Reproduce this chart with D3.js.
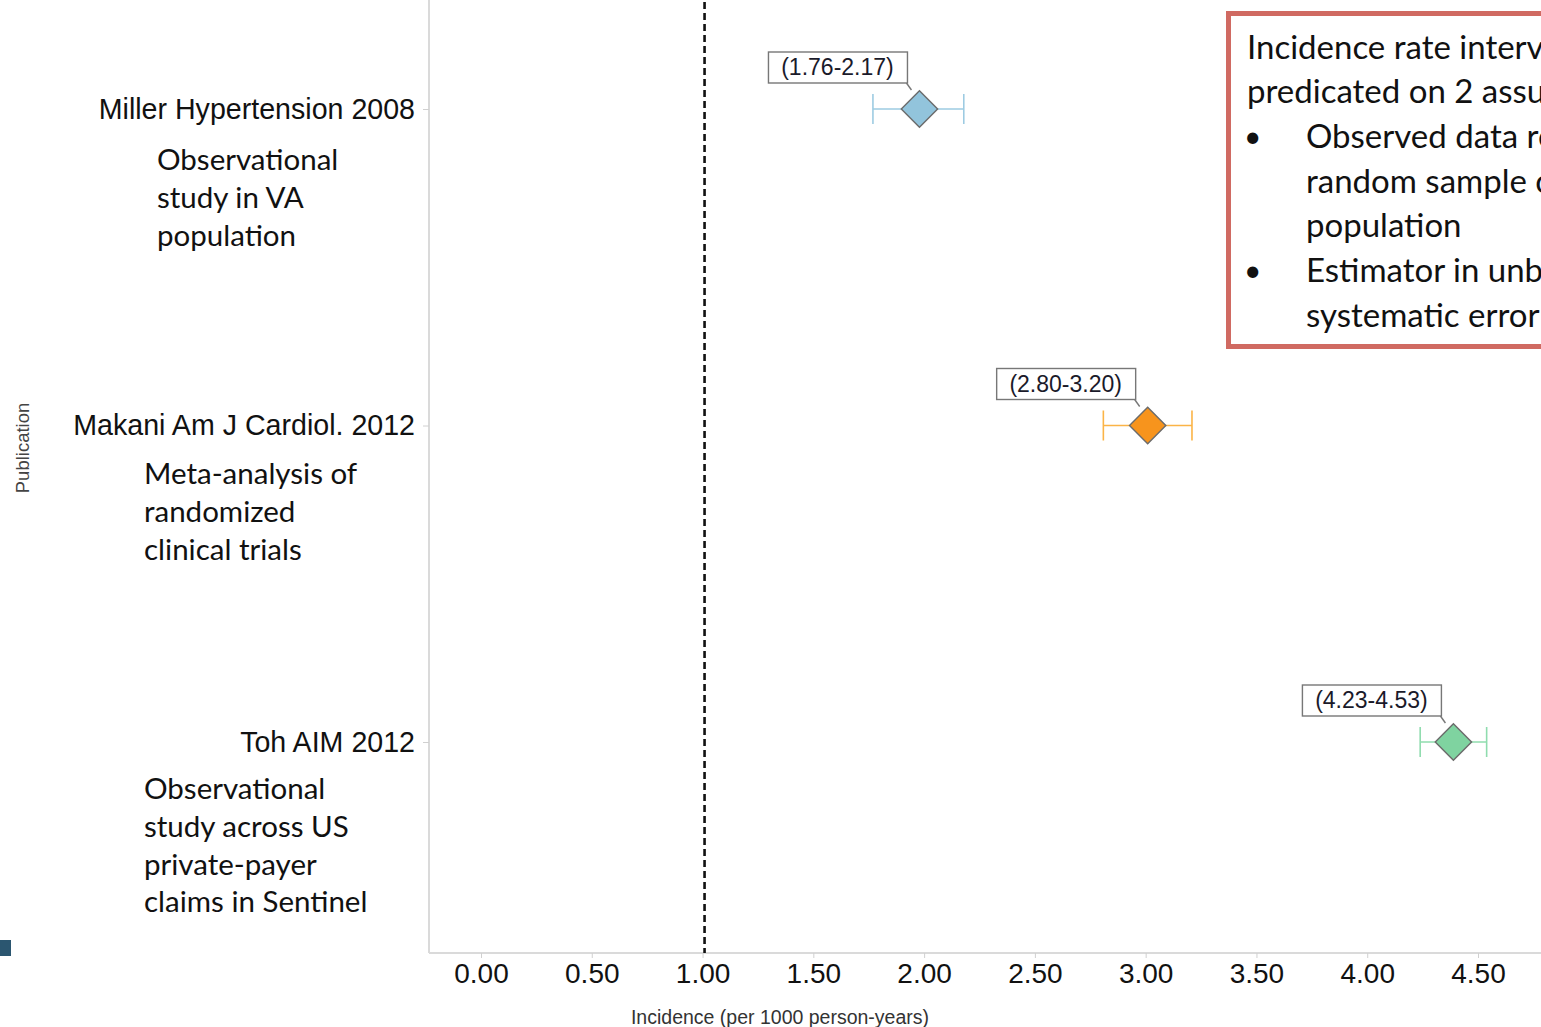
<!DOCTYPE html>
<html>
<head>
<meta charset="utf-8">
<script src="https://cdn.jsdelivr.net/npm/d3@7"></script>
<style>
  html, body { margin: 0; padding: 0; background: #fff; overflow: hidden; }
  svg { display: block; }
</style>
</head>
<body>
<div id="chart"></div>
<script>
// ---- données ----
const publications = ["Miller Hypertension 2008", "Makani Am J Cardiol. 2012", "Toh AIM 2012"];
const estimates = [1.97, 3.00, 4.38];
const lowerCI = [1.76, 2.80, 4.23];
const upperCI = [2.17, 3.20, 4.53];
const ciLabels = ["(1.76-2.17)", "(2.80-3.20)", "(4.23-4.53)"];
const studyNotes = [
  ["Observational", "study in VA", "population"],
  ["Meta-analysis of", "randomized", "clinical trials"],
  ["Observational", "study across US", "private-payer", "claims in Sentinel"]
];
const xTicks = [0, 0.5, 1, 1.5, 2, 2.5, 3, 3.5, 4, 4.5];
const refLine = 1;
const noteLines = [
  { bullet: false, text: "Incidence rate interval" },
  { bullet: false, text: "predicated on 2 assumptions:" },
  { bullet: true, text: "Observed data represent a" },
  { bullet: false, text: "random sample of the" },
  { bullet: false, text: "population" },
  { bullet: true, text: "Estimator in unbiased, no" },
  { bullet: false, text: "systematic error" }
];

// ---- couleurs ----
const fillColors = ["#92c4dc", "#f7941d", "#7fd3a0"];
const barColors = ["#9dcbe2", "#fbb447", "#8fdcae"];

const W = 1541, H = 1027;
const svg = d3.select("#chart").append("svg").attr("width", W).attr("height", H);

const plotLeft = 429, plotBottom = 953;
const sans = "'Liberation Sans', Arial, sans-serif";
const calib = "Lato, 'Open Sans', sans-serif";

const x = d3.scaleLinear().domain([0, 4.5]).range([483, 1480]);
const y = d3.scalePoint().domain(publications).range([109, 742]);

// cadre gris (axe gauche + axe bas)
svg.append("line").attr("x1", plotLeft).attr("x2", plotLeft).attr("y1", 0).attr("y2", plotBottom)
  .attr("stroke", "#dadada").attr("stroke-width", 2);
svg.append("line").attr("x1", plotLeft).attr("x2", W).attr("y1", plotBottom).attr("y2", plotBottom)
  .attr("stroke", "#dadada").attr("stroke-width", 2);

// axe X
const xAxis = svg.append("g").attr("transform", `translate(-2,${plotBottom})`)
  .call(d3.axisBottom(x).tickValues(xTicks).tickFormat(d3.format(".2f")).tickSize(5).tickPadding(5));
xAxis.select(".domain").remove();
xAxis.selectAll(".tick line").attr("stroke", "#d0d0d0");
xAxis.selectAll(".tick text").attr("fill", "#111")
  .style("font-family", sans).style("font-size", "28px");

// axe Y
const yAxis = svg.append("g").attr("transform", `translate(${plotLeft},0)`)
  .call(d3.axisLeft(y).tickSize(6).tickPadding(8));
yAxis.select(".domain").remove();
yAxis.selectAll(".tick line").attr("stroke", "#d0d0d0");
yAxis.selectAll(".tick text").attr("fill", "#111")
  .style("font-family", sans).style("font-size", "28.6px");

// titres d'axes
svg.append("text").attr("x", 780).attr("y", 1024).attr("text-anchor", "middle")
  .style("font-family", sans).style("font-size", "19.5px").attr("fill", "#333")
  .text("Incidence (per 1000 person-years)");
svg.append("text").attr("transform", "translate(29,448) rotate(-90)").attr("text-anchor", "middle")
  .style("font-family", sans).style("font-size", "18.5px").attr("fill", "#444")
  .text("Publication");

// ligne de référence
svg.append("line").attr("x1", x(refLine)).attr("x2", x(refLine)).attr("y1", 2).attr("y2", plotBottom)
  .attr("stroke", "#111").attr("stroke-width", 2.6).attr("stroke-dasharray", "7,4");

// notes sous chaque publication
const noteX = [157, 144, 144];
const noteY = [160, 474, 789];
studyNotes.forEach((lines, i) => {
  lines.forEach((t, j) => {
    svg.append("text").attr("x", noteX[i]).attr("y", noteY[i] + j * 37.7).attr("dy", "0.35em")
      .style("font-family", calib).style("font-size", "29.5px").attr("fill", "#111")
      .text(t);
  });
});

// barres d'erreur + losanges
const rows = publications.map((p, i) => ({ p, est: estimates[i], lo: lowerCI[i], hi: upperCI[i], lab: ciLabels[i], i }));
const g = svg.append("g");
rows.forEach(d => {
  const cy = y(d.p);
  g.append("line").attr("x1", x(d.lo)).attr("x2", x(d.hi)).attr("y1", cy).attr("y2", cy)
    .attr("stroke", barColors[d.i]).attr("stroke-width", 1.6);
  [d.lo, d.hi].forEach(v => {
    g.append("line").attr("x1", x(v)).attr("x2", x(v)).attr("y1", cy - 15).attr("y2", cy + 15)
      .attr("stroke", barColors[d.i]).attr("stroke-width", 1.6);
  });
  g.append("path").attr("d", d3.symbol(d3.symbolSquare, 660)())
    .attr("transform", `translate(${x(d.est)},${cy}) rotate(45)`)
    .attr("fill", fillColors[d.i]).attr("stroke", "#6b6b6b").attr("stroke-width", 1.4);

  // étiquette IC
  const bx = x(d.est) - 12, by = cy - 26;
  g.append("line").attr("x1", bx - 1).attr("y1", by).attr("x2", bx + 4).attr("y2", by + 7)
    .attr("stroke", "#777").attr("stroke-width", 1.4);
  g.append("rect").attr("x", bx - 139).attr("y", by - 31).attr("width", 139).attr("height", 31)
    .attr("fill", "#fff").attr("stroke", "#777").attr("stroke-width", 1.4);
  g.append("text").attr("x", bx - 70).attr("y", by - 16).attr("dy", "0.35em").attr("text-anchor", "middle")
    .style("font-family", sans).style("font-size", "23px").attr("fill", "#1a1a2a")
    .text(d.lab);
});

// encadré rouge
svg.append("rect").attr("x", 1228.5).attr("y", 13.5).attr("width", 340).attr("height", 333)
  .attr("fill", "#fff").attr("stroke", "#d06a62").attr("stroke-width", 5);
noteLines.forEach((l, i) => {
  const ty = 47 + i * 44.7;
  if (l.bullet) {
    svg.append("text").attr("x", 1244).attr("y", ty).attr("dy", "0.35em")
      .style("font-family", calib).style("font-size", "30px").attr("fill", "#111").text("•");
  }
  svg.append("text").attr("x", i < 2 ? 1247 : 1306).attr("y", ty).attr("dy", "0.35em")
    .style("font-family", calib).style("font-size", "33px").attr("fill", "#111")
    .text(l.text);
});

// petit carré en bas à gauche
svg.append("rect").attr("x", 0).attr("y", 940).attr("width", 11).attr("height", 16).attr("fill", "#2b5670");
</script>
</body>
</html>
